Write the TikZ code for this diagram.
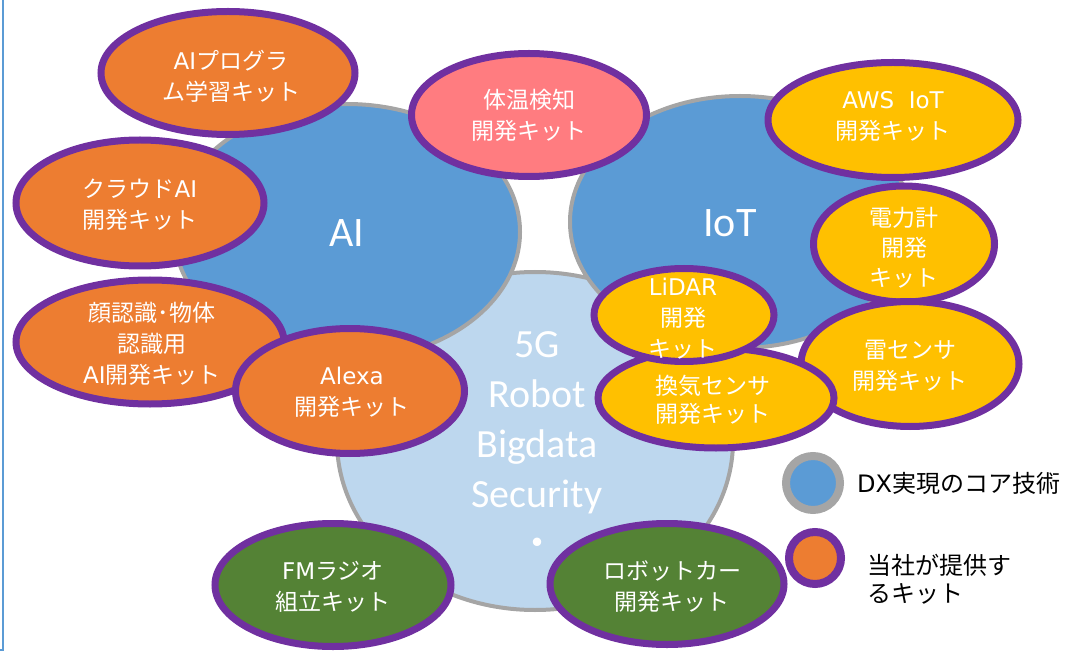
\documentclass[tikz,border=0pt]{standalone}
\usepackage{fontspec}
\setmainfont{Noto Sans CJK JP}
\newfontfamily\latinfont{Carlito}
\newfontfamily\kitlatin{DejaVu Sans}
\usetikzlibrary{shapes.geometric, positioning}

\definecolor{coreblue}{HTML}{5B9BD5}
\definecolor{corelight}{HTML}{BDD7EE}
\definecolor{coregray}{HTML}{A5A5A5}
\definecolor{kitpurple}{HTML}{7030A0}
\definecolor{kitorange}{HTML}{ED7D31}
\definecolor{kityellow}{HTML}{FFC000}
\definecolor{kitgreen}{HTML}{548235}
\definecolor{kitpink}{HTML}{FF7C80}

\tikzset{
	core/.style = {ellipse, draw = coregray, line width = 4pt, fill = coreblue, inner sep = 0pt},
	coretext/.style = {text = white, align = center, inner sep = 0pt, font = \latinfont\fontsize{42}{50}\selectfont},
	kit/.style = {ellipse, draw = kitpurple, line width = 7pt, inner sep = 0pt},
	kittext/.style = {text = white, align = center, inner sep = 0pt, font = \fontsize{23}{31}\selectfont},
	legendtext/.style = {align = left, inner sep = 0pt, font = \fontsize{24}{28}\selectfont}
}

\begin{document}
\begin{tikzpicture}[x = 1pt, y = -1pt]
	\useasboundingbox (0,0) rectangle (1073,652);
	\draw[coreblue, line width = 1.5pt] (3,0) -- (3,650) -- (0,650);

	% core technologies
	\node[core, fill = corelight, minimum width = 396pt, minimum height = 338pt] (g5) at (535,441) {};
	\node[coretext, font = \latinfont\fontsize{40}{50}\selectfont] (g5text) at (537,445) {5G\\Robot\\Bigdata\\Security\\{\normalfont ・}};
	\node[core, minimum width = 346pt, minimum height = 256pt] (ai) at (347,232) {};
	\node[coretext] (aitext) at (347,233) {AI};
	\node[core, minimum width = 340pt, minimum height = 252pt] (iot) at (740,222) {};
	\node[coretext] (iottext) at (730,223) {IoT};

	% kits
	\node[kit, fill = kitorange, minimum width = 254pt, minimum height = 123pt] (aiprog) at (228,73) {};
	\node[kittext] (aiprogtext) at (231,76) {{\kitlatin AI}プログラ\\ム学習キット};
	\node[kit, fill = kitorange, minimum width = 248pt, minimum height = 126pt] (cloudai) at (140,203) {};
	\node[kittext] (cloudaitext) at (140,205) {クラウド{\kitlatin AI}\\開発キット};
	\node[kit, fill = kitorange, minimum width = 268pt, minimum height = 124pt] (face) at (150,342) {};
	\node[kittext] (facetext) at (152,344) {顔認識･物体\\認識用\\{\kitlatin AI}開発キット};
	\node[kit, fill = kitorange, minimum width = 229pt, minimum height = 125pt] (alexa) at (350,391) {};
	\node[kittext] (alexatext) at (352,392) {{\kitlatin Alexa}\\開発キット};
	\node[kit, fill = kitpink, minimum width = 235pt, minimum height = 123pt] (temp) at (529,115) {};
	\node[kittext] (temptext) at (529,115) {体温検知\\開発キット};
	\node[kit, fill = kityellow, minimum width = 250pt, minimum height = 115pt] (aws) at (893,120) {};
	\node[kittext] (awstext) at (893,116) {{\kitlatin AWS\ \ IoT}\\開発キット};
	\node[kit, fill = kityellow, minimum width = 181pt, minimum height = 116pt] (meter) at (904,244) {};
	\node[kittext, font = \fontsize{23}{30}\selectfont] (metertext) at (904,248) {電力計\\開発\\キット};
	\node[kit, fill = kityellow, minimum width = 218pt, minimum height = 125pt] (thunder) at (910,364) {};
	\node[kittext] (thundertext) at (910,366) {雷センサ\\開発キット};
	\node[kit, fill = kityellow, minimum width = 236pt, minimum height = 100pt] (vent) at (716,398) {};
	\node[kittext, font = \fontsize{23}{28}\selectfont] (venttext) at (713,400) {換気センサ\\開発キット};
	\node[kit, fill = kityellow, minimum width = 180pt, minimum height = 93pt] (lidar) at (684,315) {};
	\node[kittext] (lidartext) at (683,319) {{\kitlatin LiDAR}\\開発\\キット};
	\node[kit, fill = kitgreen, minimum width = 236pt, minimum height = 123pt] (fm) at (333,585) {};
	\node[kittext] (fmtext) at (333,587) {{\kitlatin FM}ラジオ\\組立キット};
	\node[kit, fill = kitgreen, minimum width = 234pt, minimum height = 121pt] (robot) at (667,584) {};
	\node[kittext] (robottext) at (672,587) {ロボットカー\\開発キット};

	% legend
	\node[circle, draw = coregray, line width = 8pt, fill = coreblue, minimum size = 54pt] (dxmark) at (813,483) {};
	\node[legendtext, right = 13pt of dxmark] (dxtext) {{\kitlatin DX}実現のコア技術};
	\node[circle, draw = kitpurple, line width = 8pt, fill = kitorange, minimum size = 52pt] (kitmark) at (815,558) {};
	\node[legendtext, right = 22pt of kitmark, yshift = -21pt] (kitlegend) {当社が提供す\\るキット};
\end{tikzpicture}
\end{document}
